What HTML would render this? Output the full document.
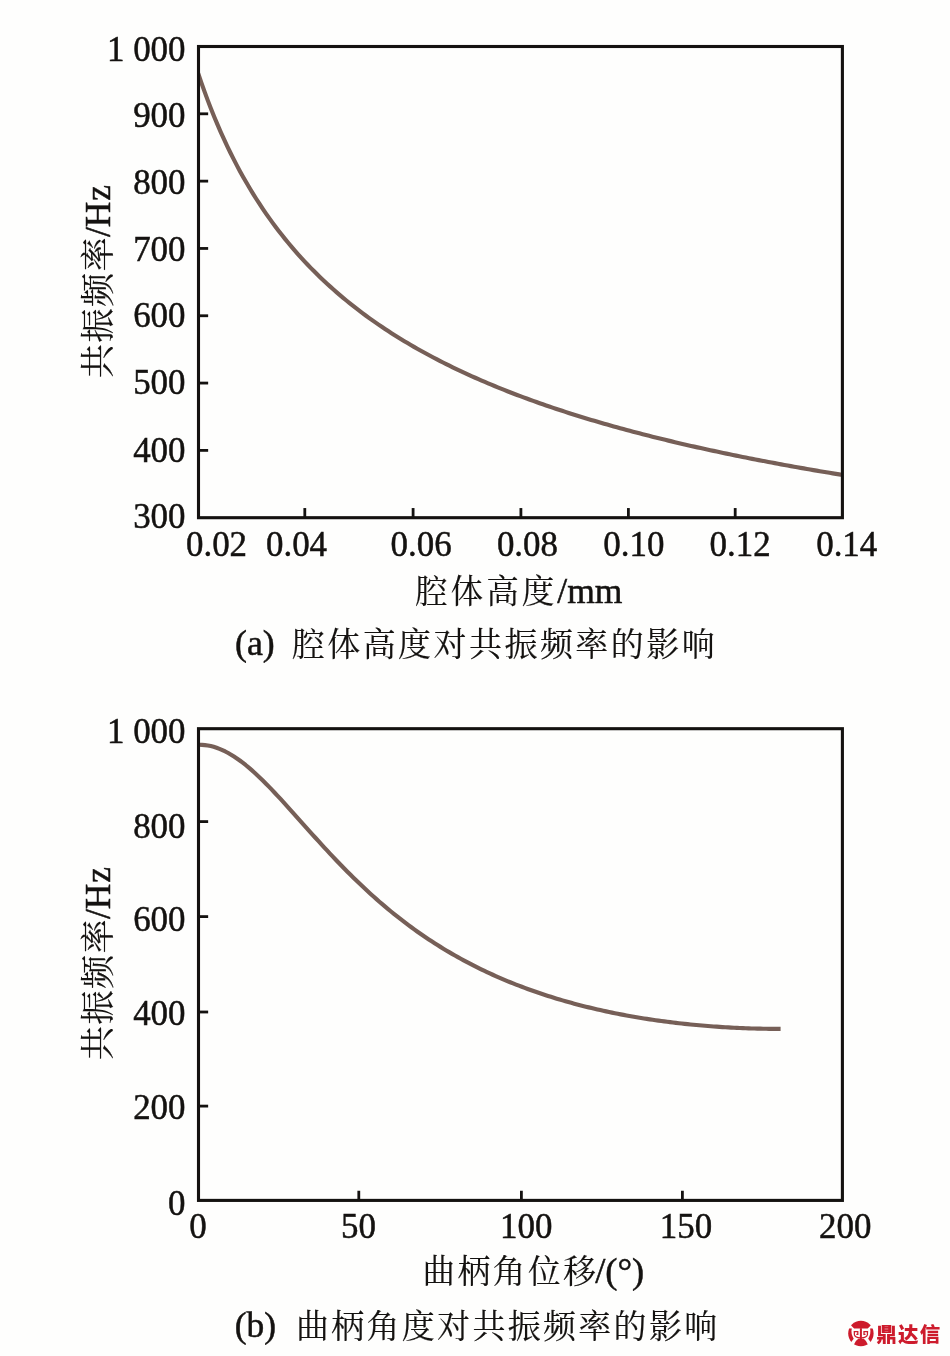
<!DOCTYPE html>
<html lang="zh-CN"><head><meta charset="utf-8"><title>共振频率</title>
<style>html,body{margin:0;padding:0;background:#fefefd;}svg{display:block}text{font-family:"Liberation Serif","Noto Serif CJK SC",serif;fill:#141210;stroke:#141210;stroke-width:0.5px}</style>
</head><body>
<svg width="950" height="1356" viewBox="0 0 950 1356">
<rect width="950" height="1356" fill="#fefefd"/>
<clipPath id="clip46"><rect x="198.50" y="46.50" width="643.90" height="471.20"/></clipPath>
<path d="M198.20 73.40 L201.42 82.87 L204.64 91.93 L207.86 100.62 L211.08 108.96 L214.30 116.97 L217.53 124.67 L220.75 132.08 L223.97 139.22 L227.19 146.11 L230.41 152.76 L233.63 159.18 L236.85 165.39 L240.07 171.40 L243.29 177.21 L246.51 182.84 L249.74 188.31 L252.96 193.60 L256.18 198.74 L259.40 203.74 L262.62 208.59 L265.84 213.31 L269.06 217.90 L272.28 222.37 L275.50 226.72 L278.73 230.95 L281.95 235.08 L285.17 239.11 L288.39 243.04 L291.61 246.87 L294.83 250.61 L298.05 254.26 L301.27 257.83 L304.49 261.32 L307.71 264.73 L310.94 268.07 L314.16 271.33 L317.38 274.53 L320.60 277.65 L323.82 280.71 L327.04 283.71 L330.26 286.65 L333.48 289.53 L336.70 292.35 L339.92 295.12 L343.14 297.83 L346.37 300.49 L349.59 303.11 L352.81 305.67 L356.03 308.19 L359.25 310.66 L362.47 313.09 L365.69 315.47 L368.91 317.81 L372.13 320.12 L375.36 322.38 L378.58 324.61 L381.80 326.80 L385.02 328.95 L388.24 331.07 L391.46 333.15 L394.68 335.20 L397.90 337.22 L401.12 339.20 L404.34 341.16 L407.56 343.09 L410.79 344.98 L414.01 346.85 L417.23 348.69 L420.45 350.50 L423.67 352.29 L426.89 354.05 L430.11 355.79 L433.33 357.50 L436.55 359.19 L439.77 360.85 L443.00 362.49 L446.22 364.11 L449.44 365.71 L452.66 367.29 L455.88 368.84 L459.10 370.37 L462.32 371.89 L465.54 373.38 L468.76 374.86 L471.98 376.32 L475.21 377.75 L478.43 379.18 L481.65 380.58 L484.87 381.96 L488.09 383.33 L491.31 384.69 L494.53 386.02 L497.75 387.34 L500.97 388.65 L504.19 389.94 L507.42 391.21 L510.64 392.47 L513.86 393.71 L517.08 394.95 L520.30 396.16 L523.52 397.37 L526.74 398.56 L529.96 399.73 L533.18 400.90 L536.40 402.05 L539.63 403.19 L542.85 404.32 L546.07 405.43 L549.29 406.53 L552.51 407.63 L555.73 408.71 L558.95 409.78 L562.17 410.83 L565.39 411.88 L568.62 412.92 L571.84 413.94 L575.06 414.96 L578.28 415.97 L581.50 416.96 L584.72 417.95 L587.94 418.92 L591.16 419.89 L594.38 420.85 L597.60 421.80 L600.83 422.74 L604.05 423.67 L607.27 424.59 L610.49 425.51 L613.71 426.41 L616.93 427.31 L620.15 428.20 L623.37 429.08 L626.59 429.95 L629.81 430.81 L633.04 431.67 L636.26 432.52 L639.48 433.36 L642.70 434.20 L645.92 435.02 L649.14 435.84 L652.36 436.66 L655.58 437.46 L658.80 438.26 L662.02 439.06 L665.25 439.84 L668.47 440.62 L671.69 441.39 L674.91 442.16 L678.13 442.92 L681.35 443.67 L684.57 444.42 L687.79 445.16 L691.01 445.90 L694.23 446.63 L697.45 447.35 L700.68 448.07 L703.90 448.78 L707.12 449.49 L710.34 450.19 L713.56 450.89 L716.78 451.58 L720.00 452.26 L723.22 452.94 L726.44 453.62 L729.66 454.29 L732.89 454.95 L736.11 455.61 L739.33 456.27 L742.55 456.92 L745.77 457.56 L748.99 458.20 L752.21 458.84 L755.43 459.47 L758.65 460.09 L761.88 460.72 L765.10 461.33 L768.32 461.95 L771.54 462.56 L774.76 463.16 L777.98 463.76 L781.20 464.36 L784.42 464.95 L787.64 465.54 L790.86 466.12 L794.09 466.70 L797.31 467.27 L800.53 467.85 L803.75 468.41 L806.97 468.98 L810.19 469.54 L813.41 470.09 L816.63 470.65 L819.85 471.20 L823.07 471.74 L826.29 472.28 L829.52 472.82 L832.74 473.36 L835.96 473.89 L839.18 474.42 L842.40 474.94" fill="none" stroke="#765f57" stroke-width="4.15" stroke-linejoin="round" clip-path="url(#clip46)"/>
<rect x="198.50" y="46.50" width="643.90" height="471.20" fill="none" stroke="#141210" stroke-width="3.10"/>
<line x1="198.50" y1="113.81" x2="208.15" y2="113.81" stroke="#141210" stroke-width="2.8"/>
<line x1="198.50" y1="181.13" x2="208.15" y2="181.13" stroke="#141210" stroke-width="2.8"/>
<line x1="198.50" y1="248.44" x2="208.15" y2="248.44" stroke="#141210" stroke-width="2.8"/>
<line x1="198.50" y1="315.76" x2="208.15" y2="315.76" stroke="#141210" stroke-width="2.8"/>
<line x1="198.50" y1="383.07" x2="208.15" y2="383.07" stroke="#141210" stroke-width="2.8"/>
<line x1="198.50" y1="450.39" x2="208.15" y2="450.39" stroke="#141210" stroke-width="2.8"/>
<line x1="304.80" y1="517.70" x2="304.80" y2="508.05" stroke="#141210" stroke-width="2.8"/>
<line x1="413.10" y1="517.70" x2="413.10" y2="508.05" stroke="#141210" stroke-width="2.8"/>
<line x1="520.90" y1="517.70" x2="520.90" y2="508.05" stroke="#141210" stroke-width="2.8"/>
<line x1="628.40" y1="517.70" x2="628.40" y2="508.05" stroke="#141210" stroke-width="2.8"/>
<line x1="735.20" y1="517.70" x2="735.20" y2="508.05" stroke="#141210" stroke-width="2.8"/>
<text x="185.5" y="60.5" font-size="34.9" text-anchor="end" >1 000</text>
<text x="185.5" y="127.3" font-size="34.9" text-anchor="end" >900</text>
<text x="185.5" y="194.2" font-size="34.9" text-anchor="end" >800</text>
<text x="185.5" y="261.0" font-size="34.9" text-anchor="end" >700</text>
<text x="185.5" y="327.2" font-size="34.9" text-anchor="end" >600</text>
<text x="185.5" y="394.3" font-size="34.9" text-anchor="end" >500</text>
<text x="185.5" y="461.5" font-size="34.9" text-anchor="end" >400</text>
<text x="185.5" y="528.1" font-size="34.9" text-anchor="end" >300</text>
<text x="186.0" y="556.4" font-size="34.9" text-anchor="start" >0.02</text>
<text x="266.0" y="556.4" font-size="34.9" text-anchor="start" >0.04</text>
<text x="390.6" y="556.4" font-size="34.9" text-anchor="start" >0.06</text>
<text x="496.9" y="556.4" font-size="34.9" text-anchor="start" >0.08</text>
<text x="603.3" y="556.4" font-size="34.9" text-anchor="start" >0.10</text>
<text x="709.6" y="556.4" font-size="34.9" text-anchor="start" >0.12</text>
<text x="816.2" y="556.4" font-size="34.9" text-anchor="start" >0.14</text>
<text x="415.00" y="602.50" text-anchor="start"><tspan font-size="32.60" letter-spacing="3.00" stroke-width="0.15">腔体高度</tspan><tspan font-size="35.50">/mm</tspan></text>
<text x="235.00" y="654.80" text-anchor="start"><tspan font-size="35.80">(a)</tspan><tspan font-size="33.00" letter-spacing="2.45" dx="17.00" dy="1.20" stroke-width="0.15">腔体高度对共振频率的影响</tspan></text>
<text transform="translate(109.50,378.20) rotate(-90)" text-anchor="start"><tspan font-size="34.20" letter-spacing="1.40" stroke-width="0.15">共振频率</tspan><tspan font-size="35.50" dx="-1.20">/H</tspan><tspan font-size="35.50" dx="0.90">z</tspan></text>
<clipPath id="clip728"><rect x="198.50" y="728.70" width="643.90" height="471.70"/></clipPath>
<path d="M199.10 744.74 L202.01 744.82 L204.91 745.08 L207.82 745.50 L210.73 746.09 L213.64 746.85 L216.54 747.77 L219.45 748.85 L222.36 750.09 L225.27 751.47 L228.18 753.01 L231.08 754.68 L233.99 756.49 L236.90 758.44 L239.81 760.51 L242.71 762.69 L245.62 764.99 L248.53 767.40 L251.44 769.90 L254.34 772.50 L257.25 775.18 L260.16 777.94 L263.06 780.77 L265.97 783.68 L268.88 786.64 L271.79 789.65 L274.69 792.71 L277.60 795.82 L280.51 798.96 L283.42 802.13 L286.32 805.33 L289.23 808.55 L292.14 811.78 L295.05 815.03 L297.95 818.28 L300.86 821.54 L303.77 824.79 L306.68 828.04 L309.58 831.29 L312.49 834.52 L315.40 837.74 L318.31 840.95 L321.21 844.13 L324.12 847.30 L327.03 850.44 L329.94 853.56 L332.84 856.65 L335.75 859.72 L338.66 862.75 L341.57 865.76 L344.48 868.73 L347.38 871.67 L350.29 874.58 L353.20 877.45 L356.11 880.29 L359.01 883.09 L361.92 885.86 L364.83 888.59 L367.74 891.28 L370.64 893.94 L373.55 896.56 L376.46 899.14 L379.37 901.69 L382.27 904.19 L385.18 906.67 L388.09 909.10 L391.00 911.50 L393.90 913.86 L396.81 916.18 L399.72 918.47 L402.62 920.72 L405.53 922.94 L408.44 925.12 L411.35 927.26 L414.25 929.38 L417.16 931.45 L420.07 933.50 L422.98 935.51 L425.88 937.48 L428.79 939.43 L431.70 941.34 L434.61 943.22 L437.51 945.06 L440.42 946.88 L443.33 948.67 L446.24 950.42 L449.14 952.15 L452.05 953.85 L454.96 955.51 L457.87 957.15 L460.77 958.76 L463.68 960.35 L466.59 961.90 L469.50 963.43 L472.40 964.94 L475.31 966.41 L478.22 967.86 L481.13 969.29 L484.03 970.69 L486.94 972.07 L489.85 973.42 L492.76 974.75 L495.66 976.05 L498.57 977.33 L501.48 978.59 L504.39 979.83 L507.29 981.05 L510.20 982.24 L513.11 983.41 L516.02 984.56 L518.93 985.69 L521.83 986.80 L524.74 987.89 L527.65 988.97 L530.55 990.02 L533.46 991.05 L536.37 992.06 L539.28 993.06 L542.18 994.03 L545.09 994.99 L548.00 995.93 L550.91 996.85 L553.81 997.76 L556.72 998.65 L559.63 999.52 L562.54 1000.38 L565.45 1001.22 L568.35 1002.04 L571.26 1002.85 L574.17 1003.64 L577.08 1004.42 L579.98 1005.18 L582.89 1005.92 L585.80 1006.65 L588.70 1007.37 L591.61 1008.07 L594.52 1008.76 L597.43 1009.44 L600.34 1010.10 L603.24 1010.74 L606.15 1011.38 L609.06 1012.00 L611.96 1012.60 L614.87 1013.19 L617.78 1013.78 L620.69 1014.34 L623.60 1014.90 L626.50 1015.44 L629.41 1015.97 L632.32 1016.49 L635.23 1016.99 L638.13 1017.49 L641.04 1017.97 L643.95 1018.44 L646.86 1018.90 L649.76 1019.35 L652.67 1019.78 L655.58 1020.21 L658.48 1020.62 L661.39 1021.03 L664.30 1021.42 L667.21 1021.80 L670.12 1022.17 L673.02 1022.53 L675.93 1022.88 L678.84 1023.21 L681.75 1023.54 L684.65 1023.86 L687.56 1024.17 L690.47 1024.46 L693.38 1024.75 L696.28 1025.03 L699.19 1025.30 L702.10 1025.55 L705.00 1025.80 L707.91 1026.04 L710.82 1026.27 L713.73 1026.48 L716.63 1026.69 L719.54 1026.89 L722.45 1027.08 L725.36 1027.26 L728.26 1027.43 L731.17 1027.59 L734.08 1027.74 L736.99 1027.88 L739.90 1028.02 L742.80 1028.14 L745.71 1028.25 L748.62 1028.36 L751.52 1028.45 L754.43 1028.54 L757.34 1028.62 L760.25 1028.69 L763.15 1028.75 L766.06 1028.80 L768.97 1028.84 L771.88 1028.87 L774.78 1028.89 L777.69 1028.90 L780.60 1028.91" fill="none" stroke="#765f57" stroke-width="4.15" stroke-linejoin="round" clip-path="url(#clip728)"/>
<rect x="198.50" y="728.70" width="643.90" height="471.70" fill="none" stroke="#141210" stroke-width="3.10"/>
<line x1="198.50" y1="821.60" x2="208.15" y2="821.60" stroke="#141210" stroke-width="2.8"/>
<line x1="198.50" y1="916.60" x2="208.15" y2="916.60" stroke="#141210" stroke-width="2.8"/>
<line x1="198.50" y1="1012.00" x2="208.15" y2="1012.00" stroke="#141210" stroke-width="2.8"/>
<line x1="198.50" y1="1106.10" x2="208.15" y2="1106.10" stroke="#141210" stroke-width="2.8"/>
<line x1="358.80" y1="1200.40" x2="358.80" y2="1190.75" stroke="#141210" stroke-width="2.8"/>
<line x1="521.40" y1="1200.40" x2="521.40" y2="1190.75" stroke="#141210" stroke-width="2.8"/>
<line x1="682.40" y1="1200.40" x2="682.40" y2="1190.75" stroke="#141210" stroke-width="2.8"/>
<text x="185.5" y="742.7" font-size="34.9" text-anchor="end" >1 000</text>
<text x="185.5" y="837.5" font-size="34.9" text-anchor="end" >800</text>
<text x="185.5" y="931.4" font-size="34.9" text-anchor="end" >600</text>
<text x="185.5" y="1025.2" font-size="34.9" text-anchor="end" >400</text>
<text x="185.5" y="1119.1" font-size="34.9" text-anchor="end" >200</text>
<text x="185.5" y="1215.4" font-size="34.9" text-anchor="end" >0</text>
<text x="189.2" y="1238.1" font-size="34.9" text-anchor="start" >0</text>
<text x="341.0" y="1238.1" font-size="34.9" text-anchor="start" >50</text>
<text x="500.0" y="1238.1" font-size="34.9" text-anchor="start" >100</text>
<text x="659.8" y="1238.1" font-size="34.9" text-anchor="start" >150</text>
<text x="819.0" y="1238.1" font-size="34.9" text-anchor="start" >200</text>
<text x="422.50" y="1283.40" text-anchor="start"><tspan font-size="32.60" letter-spacing="2.60" stroke-width="0.15">曲柄角位移</tspan><tspan font-size="36.50" dx="-3.20">/(°)</tspan></text>
<text x="234.80" y="1336.80" text-anchor="start"><tspan font-size="35.50">(b)</tspan><tspan font-size="33.00" letter-spacing="2.30" dx="19.70" dy="1.20" stroke-width="0.15">曲柄角度对共振频率的影响</tspan></text>
<text transform="translate(109.50,1060.20) rotate(-90)" text-anchor="start"><tspan font-size="34.20" letter-spacing="1.40" stroke-width="0.15">共振频率</tspan><tspan font-size="35.50" dx="-1.20">/H</tspan><tspan font-size="35.50" dx="0.90">z</tspan></text>
<g transform="translate(860.9,1333.5)">
<circle cx="0" cy="0" r="12.7" fill="#cd1b2c"/>
<path d="M-9.8,-8 L-6.8,-5.05 L6.8,-5.05 L9.8,-8 L11.5,-9.5 L14,-5.2 L9.2,-4.9 Q10.4,0 7.3,5.3 L10,9 L7.5,12 L6.4,9.9 Q5,7 2.9,5.3 L-2.6,5.3 Q-5,7 -6.4,9.9 L-7.5,12 L-10,9 L-7.2,5.3 Q-10.3,0 -9.1,-4.9 L-14,-5.2 L-11.5,-9.5 Z" fill="#fefefd"/>
<rect x="-1.0" y="-5.3" width="2.0" height="10.9" fill="#cd1b2c"/>
<path d="M-0.5,4.4 Q-5.6,4.2 -6.5,1.4 L-6.6,-1.9 L-3.1,-1.9 L-3.1,0.9 L-4.6,0.9" fill="none" stroke="#cd1b2c" stroke-width="1.25"/>
<path d="M0.5,4.4 Q5.6,4.2 6.5,1.4 L6.6,-1.9 L3.1,-1.9 L3.1,0.9 L4.6,0.9" fill="none" stroke="#cd1b2c" stroke-width="1.25"/>
</g>
<text x="876.3" y="1341.6" font-size="20.5" font-weight="900" letter-spacing="1.2" style="font-family:'Liberation Sans','Noto Sans CJK SC',sans-serif;fill:#cd1b2c;stroke:none">鼎达信</text>
</svg></body></html>
